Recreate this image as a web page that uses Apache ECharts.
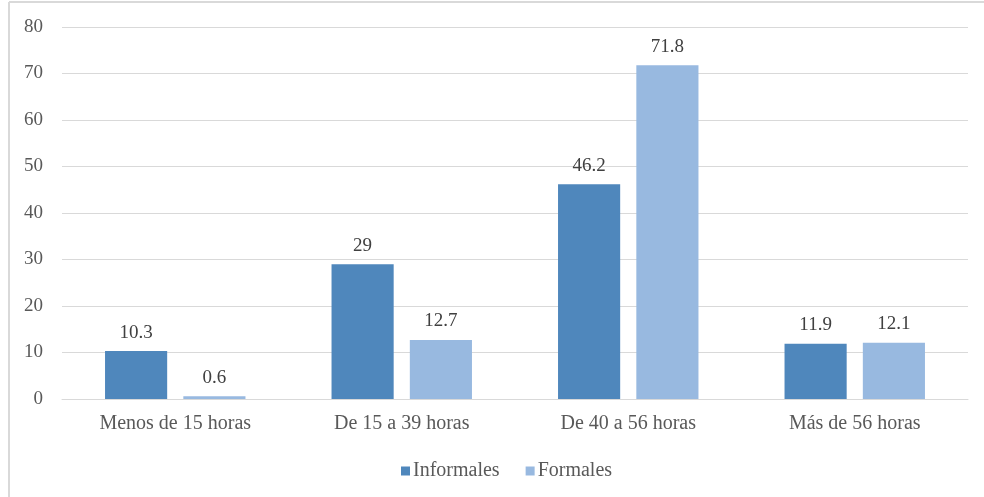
<!DOCTYPE html>
<html>
<head>
<meta charset="utf-8">
<script src="https://cdn.jsdelivr.net/npm/echarts@6/dist/echarts.min.js"></script>
<style>
  html, body { margin: 0; padding: 0; background: #ffffff; }
  #chart { width: 984px; height: 497px; }
</style>
</head>
<body>
<div id="chart"></div>
<script>
// Horas trabajadas por semana, según tipo de empleo (%)
const categories = ['Menos de 15 horas', 'De 15 a 39 horas', 'De 40 a 56 horas', 'Más de 56 horas'];
const informales = [10.3, 29, 46.2, 11.9];
const formales = [0.6, 12.7, 71.8, 12.1];
const seriesNames = ['Informales', 'Formales'];

const FONT = '"Liberation Serif", "Times New Roman", serif';

const chart = echarts.init(document.getElementById('chart'), null, { renderer: 'canvas' });

const labelStyle = {
  show: true,
  position: 'top',
  distance: 9,
  fontFamily: FONT,
  fontSize: 19,
  color: '#404040'
};

chart.setOption({
  animation: false,
  backgroundColor: '#ffffff',
  graphic: [
    // frame lines along the top and left edges
    { type: 'line', shape: { x1: 9, y1: 2, x2: 984, y2: 2 }, style: { stroke: '#D9D9D9', lineWidth: 2 } },
    { type: 'line', shape: { x1: 9, y1: 2, x2: 9, y2: 497 }, style: { stroke: '#D9D9D9', lineWidth: 2 } }
  ],
  grid: { left: 62, right: 16, top: 27, bottom: 98, containLabel: false },
  legend: {
    data: seriesNames,
    left: 396,
    top: 456,
    itemWidth: 9,
    itemHeight: 9,
    itemGap: 26,
    icon: 'rect',
    textStyle: { fontFamily: FONT, fontSize: 20, color: '#595959', padding: [0, 0, 0, -2] }
  },
  xAxis: {
    type: 'category',
    data: categories,
    axisLine: { show: true, lineStyle: { color: '#D9D9D9', width: 1 } },
    axisTick: { show: false },
    axisLabel: { fontFamily: FONT, fontSize: 20, color: '#595959', margin: 15 }
  },
  yAxis: {
    type: 'value',
    min: 0,
    max: 80,
    interval: 10,
    axisLine: { show: false },
    axisTick: { show: false },
    splitLine: { lineStyle: { color: '#D9D9D9', width: 1 } },
    axisLabel: { fontFamily: FONT, fontSize: 19, color: '#595959', margin: 19 }
  },
  series: [
    {
      name: seriesNames[0],
      type: 'bar',
      data: informales,
      barGap: '26%',
      barCategoryGap: '38%',
      itemStyle: { color: '#4F87BC' },
      label: labelStyle
    },
    {
      name: seriesNames[1],
      type: 'bar',
      data: formales,
      itemStyle: { color: '#98B9E0' },
      label: labelStyle
    }
  ]
});
</script>
</body>
</html>
